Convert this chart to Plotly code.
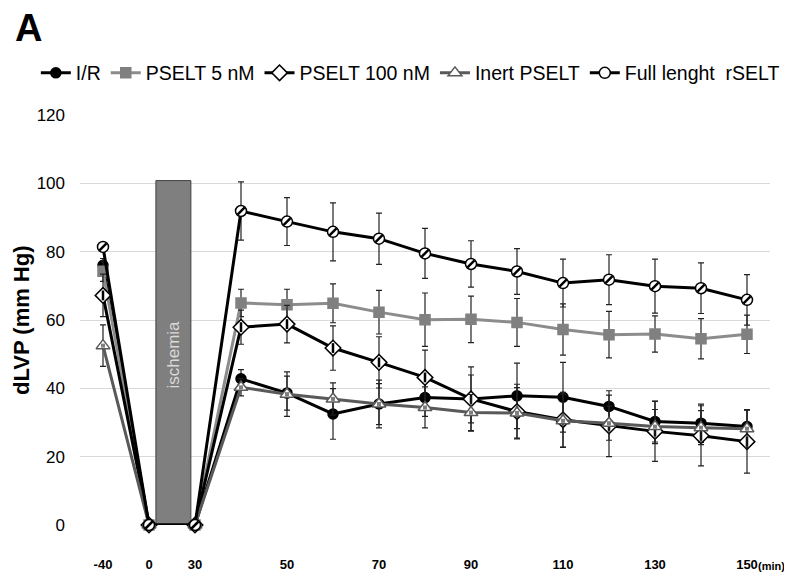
import plotly.graph_objects as go

# ---- data ----
time_labels = ["-40", "0", "30", "40", "50", "60", "70", "80", "90", "100",
               "110", "120", "130", "140", "150"]
shown_ticks = ["-40", "0", "30", "50", "70", "90", "110", "130", "150"]

ir_mean = [76.0, 0, 0, 42.8, 38.6, 32.5, 35.4, 37.3, 36.9, 37.8, 37.4, 34.7, 30.3, 29.8, 28.8]
ir_err = [2.0, 0, 0, 2.7, 5.0, 7.4, 6.0, 5.5, 7.0, 9.6, 10.2, 4.6, 6.0, 5.6, 5.0]

p5_mean = [74.3, 0, 0, 65.0, 64.5, 64.9, 62.3, 60.1, 60.2, 59.3, 57.2, 55.7, 55.9, 54.5, 55.8]
p5_err = [3.0, 0, 0, 4.0, 4.5, 5.7, 6.4, 7.8, 6.8, 7.0, 7.5, 6.8, 5.3, 5.9, 5.6]

p100_mean = [67.2, 0, 0, 57.9, 58.8, 51.8, 47.6, 43.2, 36.9, 33.2, 30.8, 29.0, 27.4, 26.1, 24.4]
p100_err = [6.2, 0, 0, 5.0, 5.5, 6.5, 7.5, 8.0, 9.4, 8.0, 8.0, 9.0, 8.8, 8.8, 9.2]

inert_mean = [52.5, 0, 0, 40.3, 38.3, 36.9, 35.4, 34.4, 32.9, 32.8, 30.5, 29.8, 28.8, 28.5, 28.2]
inert_err = [6.1, 0, 0, 2.5, 6.5, 4.7, 7.0, 6.0, 5.3, 7.4, 7.8, 5.0, 5.0, 5.0, 5.5]

full_mean = [81.4, 0, 0, 91.9, 88.8, 85.8, 83.8, 79.5, 76.4, 74.2, 70.8, 71.8, 69.9, 69.3, 65.9]
full_err = [1.0, 0, 0, 8.5, 7.0, 8.5, 7.5, 7.3, 6.8, 6.7, 7.0, 7.3, 7.9, 7.4, 7.4]

series = [
    dict(name="I/R", y=ir_mean, e=ir_err, line="#000000", symbol="circle",
         fill="#000000", mline="#000000", size=10, hatch=None),
    dict(name="PSELT 5 nM", y=p5_mean, e=p5_err, line="#8c8c8c", symbol="square",
         fill="#808080", mline="#808080", size=10, hatch=None),
    dict(name="PSELT 100 nM", y=p100_mean, e=p100_err, line="#000000", symbol="diamond",
         fill="#ffffff", mline="#000000", size=12, hatch=("line-ns", "#000000", 7, 2.5)),
    dict(name="Inert PSELT", y=inert_mean, e=inert_err, line="#595959", symbol="triangle-up",
         fill="#ffffff", mline="#595959", size=12, hatch=("square", "#7f7f7f", 4, 0)),
    dict(name="Full lenght  rSELT", y=full_mean, e=full_err, line="#000000", symbol="circle",
         fill="#ffffff", mline="#000000", size=11, hatch=("line-ne", "#000000", 7, 2.5)),
]

FONT = "Arial, 'Liberation Sans', sans-serif"

fig = go.Figure()
for s in series:
    fig.add_trace(go.Scatter(
        x=time_labels, y=s["y"], name=s["name"], mode="lines+markers",
        line=dict(color=s["line"], width=3),
        marker=dict(symbol=s["symbol"], size=s["size"], color=s["fill"],
                    line=dict(color=s["mline"], width=1.5)),
        error_y=dict(type="data", array=s["e"], visible=True, color="#222222",
                     thickness=1.2, width=3),
        cliponaxis=False,
    ))
    if s["hatch"]:
        sym, col, sz, lw = s["hatch"]
        fig.add_trace(go.Scatter(
            x=time_labels, y=s["y"], mode="markers", showlegend=False, hoverinfo="skip",
            marker=dict(symbol=sym, size=sz, color=col, line=dict(color=col, width=lw)),
            cliponaxis=False,
        ))

# ischemia block
fig.add_shape(type="rect", xref="x", yref="y", x0=1.15, x1=1.91, y0=0, y1=100.8,
              fillcolor="#7f7f7f", line=dict(color="#404040", width=1), layer="between")
fig.add_annotation(x=1.53, y=50, xref="x", yref="y", text="ischemia", textangle=-90,
                   showarrow=False, font=dict(family=FONT, size=17, color="#d9d9d9"))

fig.add_annotation(x=-0.097, y=1.213, xref="paper", yref="paper", xanchor="left", yanchor="middle",
                   text="<b>A</b>", showarrow=False, font=dict(family=FONT, size=38, color="#000"))
fig.add_annotation(x=-0.0855, y=0.5, xref="paper", yref="paper", xanchor="center", yanchor="middle",
                   text="<b>dLVP (mm Hg)</b>", textangle=-90, showarrow=False,
                   font=dict(family=FONT, size=22, color="#000"))
fig.add_annotation(x=0.9797, y=-0.08, xref="paper", yref="paper", xanchor="left", yanchor="top",
                   text="<b>(min)</b>", showarrow=False, font=dict(family=FONT, size=11, color="#000"))

fig.update_layout(
    width=792, height=586,
    margin=dict(l=72, r=30, t=107, b=69),
    paper_bgcolor="white", plot_bgcolor="white",
    font=dict(family=FONT, color="#000"),
    showlegend=True,
    legend=dict(orientation="h", x=-0.064, y=1.102, xanchor="left", yanchor="middle",
                font=dict(family=FONT, size=19.5, color="#000"), bgcolor="rgba(0,0,0,0)",
                itemwidth=30, tracegroupgap=0),
    xaxis=dict(type="category", categoryorder="array", categoryarray=time_labels,
               range=[-0.5, 14.5], tickmode="array", tickvals=shown_ticks,
               ticktext=[f"<b>{t}</b>" for t in shown_ticks],
               showgrid=False, showline=False, zeroline=False, ticks="",
               tickfont=dict(family=FONT, size=13, color="#000"), ticklabelstandoff=30),
    yaxis=dict(range=[0, 120], tickvals=[0, 20, 40, 60, 80, 100, 120],
               showgrid=True, gridcolor="#d9d9d9", gridwidth=1, zeroline=False,
               showline=False, ticks="", tickfont=dict(family=FONT, size=17, color="#000"),
               ticklabelstandoff=14),
)

fig.write_html("out.html")
